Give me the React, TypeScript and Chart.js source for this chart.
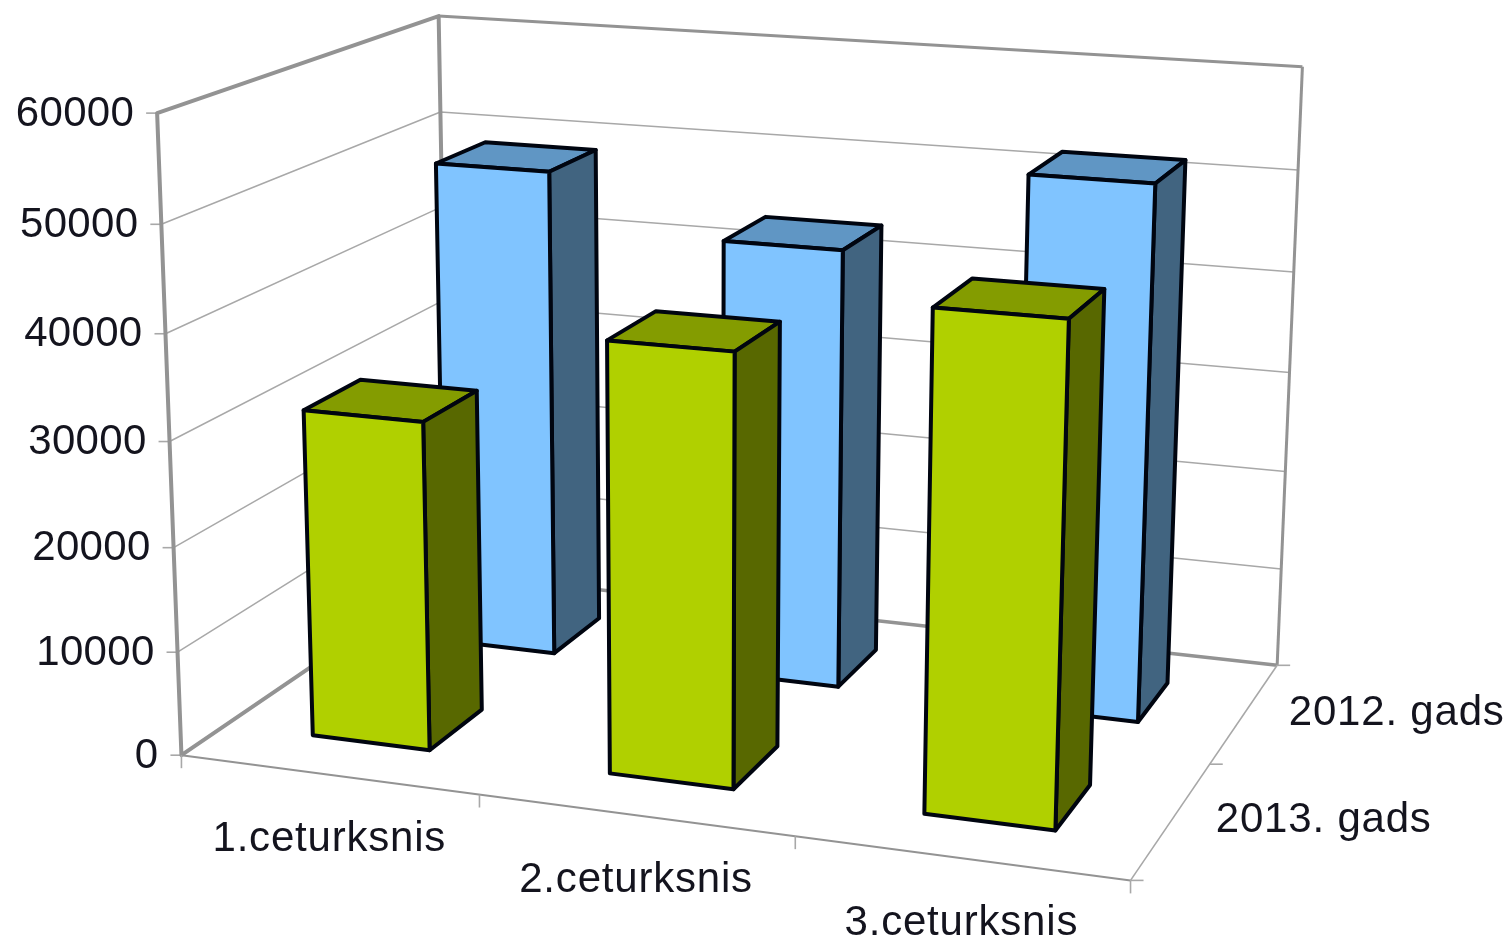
import React, { useEffect, useRef } from "react";
import { Chart, BarController, registerables } from "chart.js";

const categories = ["1.ceturksnis", "2.ceturksnis", "3.ceturksnis"];
const seriesNames = ["2013. gads", "2012. gads"];
const values2013 = [31500, 40600, 46000];
const values2012 = [49000, 43500, 52000];
const yMax = 60000;
const yStep = 10000;

const greenFaces = { front: "#b0d000", top: "#849c00", side: "#586800" };
const blueFaces = { front: "#80c4ff", top: "#6096c4", side: "#416480" };
const barDepth = 0.2;

// Where the corners of the unit chart box land on the picture: [u, v, w, px, py]
const boxAnchors = [
  [0, 0, 0, 183, 752],
  [0, 1, 0, 156, 113],
  [0, 0, 1, 447, 577],
  [0, 1, 1, 440, 15],
  [1, 0, 0, 1130, 884],
  [1, 0, 1, 1278, 661],
  [1, 1, 1, 1302, 68],
];

function solveProjection(): number[] {
  const n = 11;
  const A: number[][] = Array.from({ length: n }, () => new Array(n + 1).fill(0));
  const add = (row: number[], rhs: number) => {
    for (let i = 0; i < n; i++) {
      for (let j = 0; j < n; j++) A[i][j] += row[i] * row[j];
      A[i][n] += row[i] * rhs;
    }
  };
  for (const [u, v, w, px, py] of boxAnchors) {
    add([u, v, w, 1, 0, 0, 0, 0, -px * u, -px * v, -px * w], px);
    add([0, 0, 0, 0, u, v, w, 1, -py * u, -py * v, -py * w], py);
  }
  for (let c = 0; c < n; c++) {
    let p = c;
    for (let r = c + 1; r < n; r++) if (Math.abs(A[r][c]) > Math.abs(A[p][c])) p = r;
    [A[c], A[p]] = [A[p], A[c]];
    for (let r = 0; r < n; r++) {
      if (r === c) continue;
      const f = A[r][c] / A[c][c];
      for (let k = c; k <= n; k++) A[r][k] -= f * A[c][k];
    }
  }
  return A.map((row, i) => row[n] / row[i]);
}

const H = solveProjection();
function project(u: number, v: number, w: number): [number, number] {
  const d = H[8] * u + H[9] * v + H[10] * w + 1;
  return [
    (H[0] * u + H[1] * v + H[2] * w + H[3]) / d,
    (H[4] * u + H[5] * v + H[6] * w + H[7]) / d,
  ];
}

function poly(ctx: CanvasRenderingContext2D, pts: [number, number][], fill: string | null, stroke: string | null, lw = 3, close = true) {
  ctx.beginPath();
  pts.forEach((p, i) => (i ? ctx.lineTo(p[0], p[1]) : ctx.moveTo(p[0], p[1])));
  if (close) ctx.closePath();
  if (fill) {
    ctx.fillStyle = fill;
    ctx.fill();
  }
  if (stroke) {
    ctx.strokeStyle = stroke;
    ctx.lineWidth = lw;
    ctx.lineJoin = "round";
    ctx.stroke();
  }
}

class Bar3DController extends BarController {
  static id = "bar3d";
  static defaults = BarController.defaults;
  static overrides = BarController.overrides;
  draw() {
    const chart = this.chart;
    const ctx = chart.ctx;
    const meta = this.getMeta();
    const xs = chart.scales.x;
    const ys = chart.scales.y;
    const faces = (this.getDataset() as any).faces;
    const zc = (this.index + 0.5) / chart.data.datasets.length;
    const z0 = zc - barDepth / 2;
    const z1 = zc + barDepth / 2;
    for (const el of meta.data as any[]) {
      const u0 = (el.x - el.width / 2 - xs.left) / xs.width;
      const u1 = (el.x + el.width / 2 - xs.left) / xs.width;
      const v = (ys.bottom - el.y) / ys.height;
      const a = project(u0, 0, z0);
      const b = project(u1, 0, z0);
      const c = project(u1, 0, z1);
      const d = project(u0, v, z0);
      const e = project(u1, v, z0);
      const f = project(u1, v, z1);
      const g = project(u0, v, z1);
      poly(ctx, [d, e, f, g], faces.top, "#000510", 4);
      poly(ctx, [e, b, c, f], faces.side, "#000510", 4);
      poly(ctx, [d, a, b, e], faces.front, "#000510", 4);
    }
  }
}

const GREY = "#939393";
const GRID = "#a8a8a8";
const TEXT = "#14141e";
const FONT = "42px 'Liberation Sans'";

const boxPlugin = {
  id: "box3d",
  beforeDatasetsDraw(chart: any) {
    const ctx: CanvasRenderingContext2D = chart.ctx;
    const ys = chart.scales.y;
    const nCat = chart.data.labels.length;
    const nSer = chart.data.datasets.length;
    ctx.save();
    for (const t of ys.ticks) {
      const v = (ys.bottom - ys.getPixelForValue(t.value)) / ys.height;
      if (v > 0 && v < 1) {
        poly(ctx, [project(0, v, 0), project(0, v, 1), project(1, v, 1)], null, GRID, 1.5, false);
      }
      const p = project(0, v, 0);
      poly(ctx, [[p[0] - 11, p[1]], p], null, GRID, 1.6, false);
      ctx.font = FONT;
      (ctx as any).letterSpacing = "0.3px";
      ctx.fillStyle = TEXT;
      ctx.textAlign = "right";
      ctx.textBaseline = "middle";
      ctx.fillText(String(t.value), p[0] - 23, p[1] + 1);
    }
    // walls
    poly(ctx, [project(0, 0, 0), project(0, 1, 0), project(0, 1, 1), project(0, 0, 1)], null, GREY, 4);
    poly(ctx, [project(0, 1, 1), project(1, 1, 1)], null, GREY, 3, false);
    poly(ctx, [project(1, 1, 1), project(1, 0, 1)], null, GREY, 3, false);
    poly(ctx, [project(0, 0, 1), project(1, 0, 1)], null, GREY, 3.5, false);
    poly(ctx, [project(0, 0, 0), project(1, 0, 0)], null, GREY, 2, false);
    poly(ctx, [project(1, 0, 0), project(1, 0, 1)], null, GRID, 1.6, false);
    // category axis ticks and labels
    for (let i = 0; i <= nCat; i++) {
      const p = project(i / nCat, 0, 0);
      poly(ctx, [p, [p[0], p[1] + 13]], null, GRID, 1.6, false);
    }
    categories.forEach((label, i) => {
      const p = project((i + 0.5) / nCat, 0, 0);
      ctx.textAlign = "center";
      ctx.textBaseline = "middle";
      ctx.fillStyle = TEXT;
      ctx.font = FONT;
      (ctx as any).letterSpacing = "0.8px";
      ctx.fillText(label, p[0] + 1, p[1] + 65);
    });
    // depth axis ticks and labels
    for (let s = 0; s <= nSer; s++) {
      const p = project(1, 0, s / nSer);
      poly(ctx, [p, [p[0] + 13, p[1]]], null, GRID, 1.6, false);
    }
    seriesNames.forEach((label, s) => {
      const p = project(1, 0, (s + 0.5) / nSer);
      ctx.textAlign = "left";
      ctx.textBaseline = "middle";
      ctx.fillStyle = TEXT;
      ctx.font = FONT;
      (ctx as any).letterSpacing = "0.8px";
      ctx.fillText(label, p[0] + 44, p[1] + 1);
    });
    ctx.restore();
  },
};

Chart.register(...registerables, Bar3DController);

export default function App() {
  const ref = useRef<HTMLCanvasElement>(null);
  useEffect(() => {
    const chart = new Chart(ref.current!, {
      type: "bar3d" as any,
      data: {
        labels: categories,
        datasets: [
          { label: seriesNames[0], data: values2013, backgroundColor: greenFaces.front, faces: greenFaces } as any,
          { label: seriesNames[1], data: values2012, backgroundColor: blueFaces.front, faces: blueFaces } as any,
        ],
      },
      options: {
        animation: false,
        responsive: false,
        grouped: false,
        barPercentage: 0.4,
        categoryPercentage: 1,
        layout: { padding: 0 },
        plugins: { legend: { display: false }, tooltip: { enabled: false } },
        scales: {
          x: { type: "category", display: false, offset: true },
          y: { type: "linear", display: false, min: 0, max: yMax, ticks: { stepSize: yStep } },
        },
      } as any,
      plugins: [boxPlugin],
    });
    return () => chart.destroy();
  }, []);
  return (
    <div style={{ position: "fixed", left: 0, top: 0, width: 1510, height: 944, background: "#fff" }}>
      <canvas ref={ref} width={1510} height={944} style={{ display: "block", filter: "blur(0.5px)" }} />
    </div>
  );
}
